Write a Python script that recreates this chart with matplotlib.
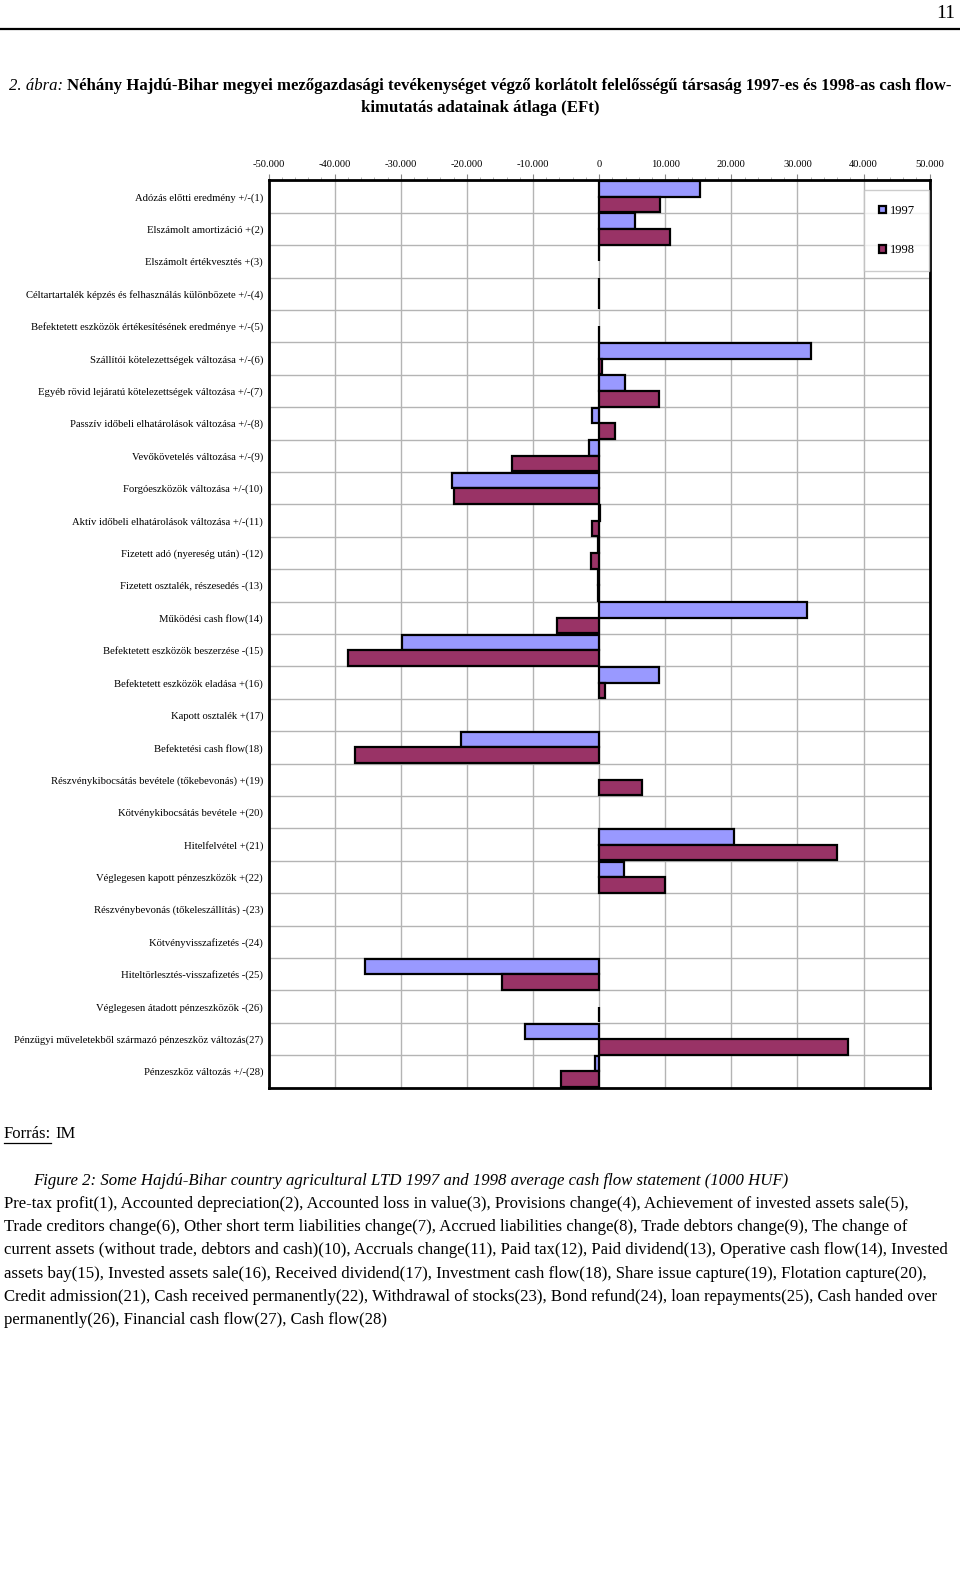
import numpy as np
import matplotlib
matplotlib.use("Agg")
import matplotlib.pyplot as plt
from matplotlib.lines import Line2D
from matplotlib.ticker import FuncFormatter, MultipleLocator

plt.rcParams['font.family'] = ['Liberation Serif', 'DejaVu Serif']

categories = [
    "Adózás előtti eredmény +/-(1)",
    "Elszámolt amortizáció +(2)",
    "Elszámolt értékvesztés +(3)",
    "Céltartartalék képzés és felhasználás különbözete +/-(4)",
    "Befektetett eszközök értékesítésének eredménye +/-(5)",
    "Szállítói kötelezettségek változása +/-(6)",
    "Egyéb rövid lejáratú kötelezettségek változása +/-(7)",
    "Passzív időbeli elhatárolások változása +/-(8)",
    "Vevőkövetelés változása +/-(9)",
    "Forgóeszközök változása +/-(10)",
    "Aktív időbeli elhatárolások változása +/-(11)",
    "Fizetett adó (nyereség után) -(12)",
    "Fizetett osztalék, részesedés -(13)",
    "Működési cash flow(14)",
    "Befektetett eszközök beszerzése -(15)",
    "Befektetett eszközök eladása +(16)",
    "Kapott osztalék +(17)",
    "Befektetési cash flow(18)",
    "Részvénykibocsátás bevétele (tőkebevonás) +(19)",
    "Kötvénykibocsátás bevétele +(20)",
    "Hitelfelvétel +(21)",
    "Véglegesen kapott pénzeszközök +(22)",
    "Részvénybevonás (tőkeleszállítás) -(23)",
    "Kötvényvisszafizetés -(24)",
    "Hiteltörlesztés-visszafizetés -(25)",
    "Véglegesen átadott pénzeszközök -(26)",
    "Pénzügyi műveletekből származó pénzeszköz változás(27)",
    "Pénzeszköz változás +/-(28)",
]

v1997 = [15260, 5490, 60, -70, 0, 32090, 3930, -1000, -1510, -22200,
         150, -150, -200, 31490, -29830, 9070, 0, -20820, 0, 0,
         20400, 3780, 0, 0, -35380, 0, -11280, -650]
v1998 = [9170, 10680, 0, -70, -60, 400, 9020, 2420, -13190, -22020,
         -1000, -1200, -200, -6440, -37950, 960, 0, -36990, 6550, 0,
         35970, 9970, 0, 0, -14620, 60, 37730, -5690]

series_names = ["1997", "1998"]
colors = ["#9999FF", "#993366"]

W, H = 960, 1589
fig = plt.figure(figsize=(W / 100, H / 100), dpi=100)


def fy(y):
    return 1 - y / H


# plot area
left, right, top, bottom = 268.6, 929.6, 180.4, 1087.7
ax = fig.add_axes([left / W, fy(bottom), (right - left) / W, (bottom - top) / H])

y = np.arange(len(categories))
h = 0.48
bars1 = ax.barh(y - h / 2, v1997, height=h, color=colors[0], edgecolor='black',
                linewidth=1.6, label=series_names[0], zorder=3)
bars2 = ax.barh(y + h / 2, v1998, height=h, color=colors[1], edgecolor='black',
                linewidth=1.6, label=series_names[1], zorder=3)
for bars, vals in ((bars1, v1997), (bars2, v1998)):
    for b, v in zip(bars, vals):
        if v == 0:
            b.set_visible(False)

ax.set_xlim(-50000, 50000)
ax.set_ylim(len(categories) - 0.5, -0.5)
ax.xaxis.set_major_locator(MultipleLocator(10000))
ax.xaxis.set_minor_locator(MultipleLocator(2000))
ax.xaxis.set_major_formatter(FuncFormatter(lambda v, p: '{:,.0f}'.format(v).replace(',', '.')))
ax.xaxis.tick_top()
ax.tick_params(axis='x', which='major', length=4, width=0.8, color='#888888',
               labelsize=7.6, pad=4.5)
ax.tick_params(axis='x', which='minor', length=2, width=0.6, color='#aaaaaa')

ax.set_yticks(y)
ax.set_yticklabels(categories, fontsize=7.7)
ax.set_yticks(np.arange(len(categories) + 1) - 0.5, minor=True)
ax.tick_params(axis='y', which='both', length=0, pad=4)

ax.grid(axis='x', which='major', color='#b4b4b4', linewidth=1.0, zorder=0)
ax.grid(axis='y', which='minor', color='#b4b4b4', linewidth=1.0, zorder=0)
ax.set_axisbelow(True)
for s in ax.spines.values():
    s.set_linewidth(2.0)
    s.set_color('black')

leg = ax.legend(loc='upper right', bbox_to_anchor=(0.999, 0.989), borderaxespad=0,
                fontsize=9, frameon=True, fancybox=False, edgecolor='#c0c0c0',
                handlelength=0.55, handleheight=0.55, handletextpad=0.3,
                labelspacing=2.2, borderpad=1.15)
leg.get_frame().set_linewidth(1.0)

# page header
fig.text(955 / W, fy(14), "11", fontsize=14, ha='right', va='center')
fig.add_artist(Line2D([0, 1], [fy(28.5), fy(28.5)], color='black', linewidth=1.6))

# title with mixed styles, fitted to the text width of the page
renderer = fig.canvas.get_renderer()
size = 12.5
t1 = fig.text(0, fy(86), "2. ábra:", style='italic', fontsize=size, va='center')
t2 = fig.text(0, fy(86), "Néhány Hajdú-Bihar megyei mezőgazdasági tevékenységet végző korlátolt "
              "felelősségű társaság 1997-es és 1998-as cash flow-",
              weight='bold', fontsize=size, va='center')
gap = 4
total = t1.get_window_extent(renderer).width + gap + t2.get_window_extent(renderer).width
size = size * 948 / total
t1.set_fontsize(size)
t2.set_fontsize(size)
w1 = t1.get_window_extent(renderer).width
w2 = t2.get_window_extent(renderer).width
x0 = (W - (w1 + gap + w2)) / 2
t1.set_x(x0 / W)
t2.set_x((x0 + w1 + gap) / W)
fig.text(480 / W, fy(108.5), "kimutatás adatainak átlaga (EFt)", weight='bold',
         fontsize=size, ha='center', va='center')

# source line with underlined label
src = fig.text(4 / W, fy(1134), "Forrás:", fontsize=12, va='center')
ext = src.get_window_extent(renderer)
fig.text((4 + ext.width + 4) / W, fy(1134), "IM", fontsize=12, va='center')
fig.add_artist(Line2D([4 / W, (4 + ext.width) / W], [ext.y0 / H - 0.0004] * 2,
                      color='black', linewidth=0.9))

fig.text(33.5 / W, fy(1181), "Figure 2: Some Hajdú-Bihar country agricultural LTD 1997 and 1998 "
         "average cash flow statement (1000 HUF)", style='italic', fontsize=12.05, va='center')

para = [
    "Pre-tax profit(1), Accounted depreciation(2), Accounted loss in value(3), Provisions change(4), Achievement of invested assets sale(5),",
    "Trade creditors change(6), Other short term liabilities change(7), Accrued liabilities change(8), Trade debtors change(9), The change of",
    "current assets (without trade, debtors and cash)(10), Accruals change(11), Paid tax(12), Paid dividend(13), Operative cash flow(14), Invested",
    "assets bay(15), Invested assets sale(16), Received dividend(17), Investment cash flow(18), Share issue capture(19), Flotation capture(20),",
    "Credit admission(21), Cash received permanently(22), Withdrawal of stocks(23), Bond refund(24), loan repayments(25), Cash handed over",
    "permanently(26), Financial cash flow(27), Cash flow(28)",
]
for i, line in enumerate(para):
    fig.text(4 / W, fy(1204 + i * 23.2), line, fontsize=12.08, va='center')

fig.savefig("out.png", dpi=100)
